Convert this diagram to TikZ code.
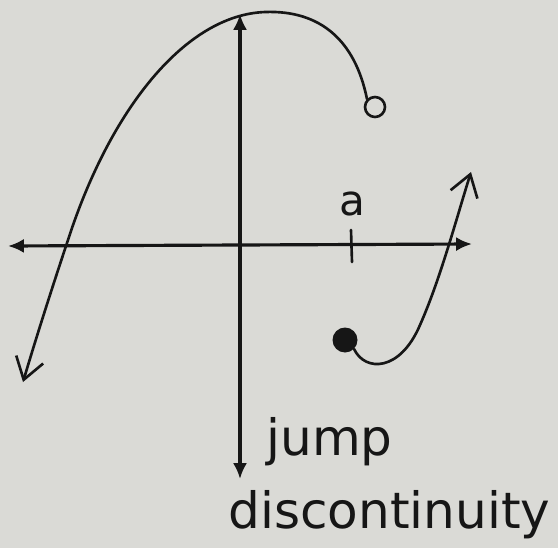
\documentclass[tikz,border=0pt]{standalone}
\usepackage{tikz}
\usepackage{fontspec}
\newfontfamily\handfont{DejaVu Sans}
\usetikzlibrary{arrows.meta, positioning, calc}
\definecolor{paper}{RGB}{218,218,214}
\definecolor{ink}{RGB}{22,22,22}

\begin{document}
\begin{tikzpicture}[
    x=0.02cm, y=-0.02cm,
    % Define styles
    axis/.style={
        ink,
        line width=1.8pt,
        {Latex[length=9pt, width=8pt]}-{Latex[length=9pt, width=8pt]}
    },
    graph/.style={
        ink,
        line width=1.5pt,
        line cap=round
    },
    opendot/.style={
        circle,
        draw=ink,
        line width=1.5pt,
        fill=paper,
        minimum size=0.4cm,
        inner sep=0pt
    },
    closeddot/.style={
        circle,
        fill=ink,
        minimum size=0.5cm,
        inner sep=0pt
    },
    scrawl/.style={
        ink,
        font=\handfont\fontsize{28.5}{34}\selectfont,
        inner sep=0pt
    }
]
    % Paper background
    \fill[paper] (0, 0) rectangle (558, 548);

    % =================================================================
    % --- Axes ---
    % =================================================================
    \coordinate (xleft) at (8, 246);
    \coordinate (xright) at (472, 244);
    \coordinate (ytop) at (240, 14);
    \coordinate (ybottom) at (240, 479);
    \draw[axis] (xleft) -- (xright);
    \draw[axis] (ytop) -- (ybottom);

    % Tick and label at a
    \coordinate (tick_top) at (351, 230);
    \coordinate (tick_bottom) at (352, 262);
    \draw[graph] (tick_top) -- (tick_bottom);
    \node[scrawl, font=\handfont\fontsize{24}{28}\selectfont] (a_label) at (352, 204) {a};

    % =================================================================
    % --- Left piece, ends at open circle ---
    % =================================================================
    \node[opendot] (hole) at (375, 107) {};
    \coordinate (left_tip) at (23, 382);
    \draw[graph, -{Straight Barb[length=12pt, width=16pt, line width=1.5pt]}]
        (hole.north west) .. controls (355, 40) and (320, 10) .. (265, 12)
        .. controls (185, 15) and (110, 110) .. (68, 240)
        .. controls (48, 300) and (34, 345) .. (left_tip);

    % =================================================================
    % --- Right piece, starts at closed dot ---
    % =================================================================
    \node[closeddot] (jumpdot) at (345, 340) {};
    \coordinate (right_tip) at (471, 172);
    \draw[graph, -{Straight Barb[length=12pt, width=16pt, line width=1.5pt]}]
        (jumpdot.south east) .. controls (365, 372) and (400, 372) .. (420, 325)
        .. controls (440, 280) and (456, 220) .. (right_tip);

    % Caption
    \node[scrawl, anchor=base west] (jump_text) at (266, 455) {jump};
    \node[scrawl, anchor=base west] (disc_text) at (228, 528) {discontinuity};
\end{tikzpicture}
\end{document}
